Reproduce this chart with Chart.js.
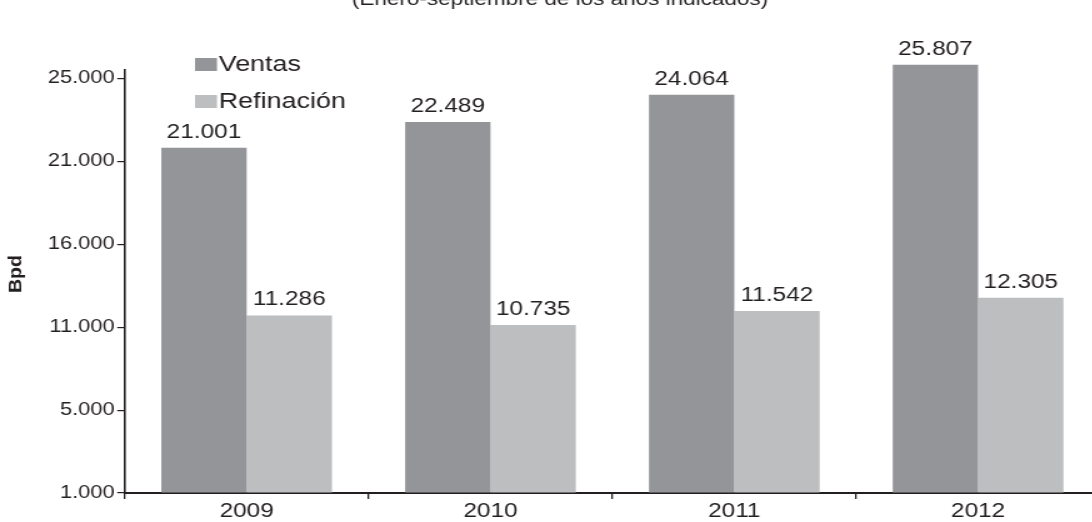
<!DOCTYPE html>
<html lang="es">
<head>
<meta charset="utf-8">
<title>Ventas y refinación</title>
<script src="https://cdn.jsdelivr.net/npm/chart.js@4.4.1/dist/chart.umd.min.js"></script>
<style>
  html, body { margin: 0; padding: 0; background: #fff; overflow: hidden; width: 1092px; height: 522px; }
  /* the source picture uses a wide face: draw narrow, stretch sideways.
     the plot runs a few px past the right edge, as in the original */
  #chart { width: 1100px !important; height: 522px !important; display: block; }
</style>
</head>
<body>
<canvas id="chart" width="880" height="522" style="width:1100px;height:522px"></canvas>
<script>
const years = ['2009', '2010', '2011', '2012'];
const ventas = [21001, 22489, 24064, 25807];
const refinacion = [11286, 10735, 11542, 12305];
const yTickLabels = ['1.000', '5.000', '11.000', '16.000', '21.000', '25.000'];
const subtitle = '(Enero-septiembre de los años indicados)';
const yTitle = 'Bpd';

const INK = '#231f20';
const FONT = "'Liberation Sans', Arial, Helvetica, sans-serif";
const COLORS = ['#939598', '#bcbec0'];

// tick labels sit evenly spaced on the axis
const Y_MIN = 1000, Y_STEP = 4800;

const fmt = n => String(n).replace(/\B(?=(\d{3})+(?!\d))/g, '.');

/* values above each bar */
const barLabels = {
  id: 'barLabels',
  afterDatasetsDraw(chart){
    const ctx = chart.ctx;
    ctx.save();
    ctx.font = `19.5px ${FONT}`;
    ctx.fillStyle = INK;
    ctx.textAlign = 'center';
    ctx.textBaseline = 'alphabetic';
    chart.data.datasets.forEach((ds, i) => {
      chart.getDatasetMeta(i).data.forEach((bar, j) => {
        ctx.fillText(fmt(ds.data[j]), bar.x, bar.y - 10);
      });
    });
    ctx.restore();
  }
};

/* subtitle, axis title and the little legend in the corner */
const decor = {
  id: 'decor',
  afterDraw(chart){
    const ctx = chart.ctx;
    ctx.save();
    ctx.fillStyle = INK;
    ctx.font = `18px ${FONT}`;
    ctx.textAlign = 'center';
    ctx.textBaseline = 'alphabetic';
    ctx.fillText(subtitle, 448, 5);

    // rotated axis title
    ctx.save();
    ctx.translate(13, 274);
    ctx.rotate(-Math.PI / 2);
    ctx.scale(1.4, 1);
    ctx.font = `bold 14px ${FONT}`;
    ctx.textBaseline = 'middle';
    ctx.fillText(yTitle, 0, 0);
    ctx.restore();

    // legend
    ctx.font = `21.5px ${FONT}`;
    ctx.textAlign = 'left';
    ctx.textBaseline = 'middle';
    const rows = [58, 95];
    chart.data.datasets.forEach((ds, i) => {
      ctx.fillStyle = ds.backgroundColor;
      ctx.fillRect(156, rows[i], 17.6, 13);
      ctx.fillStyle = INK;
      ctx.fillText(ds.label, 175, rows[i] + 7);
    });
    ctx.restore();
  }
};

new Chart(document.getElementById('chart'), {
  type: 'bar',
  data: {
    labels: years,
    datasets: [
      { label: 'Ventas', data: ventas, backgroundColor: COLORS[0], base: Y_MIN, clip: false },
      { label: 'Refinación', data: refinacion, backgroundColor: COLORS[1], base: Y_MIN, clip: false },
    ],
  },
  options: {
    responsive: false,
    animation: false,
    devicePixelRatio: 1,
    categoryPercentage: 0.7,
    barPercentage: 1.0,
    layout: { padding: { top: 70, left: 0, right: 0, bottom: -2.5 } },
    plugins: {
      legend: { display: false },
      tooltip: { enabled: false },
    },
    scales: {
      x: {
        offset: true,
        grid: { offset: true, drawOnChartArea: false, tickLength: 6, color: INK, lineWidth: 1.3 },
        border: { display: true, color: INK, width: 2 },
        ticks: { color: INK, padding: 3, font: { family: FONT, size: 19.5, lineHeight: 1 } },
      },
      y: {
        min: Y_MIN,
        max: 25500,
        afterFit(scale){ scale.width = 99.8; },
        afterBuildTicks(scale){
          scale.ticks = yTickLabels.map((_, i) => ({ value: Y_MIN + i * Y_STEP }));
        },
        grid: { drawOnChartArea: false, tickLength: 6, color: INK, lineWidth: 1.2 },
        border: { display: true, color: INK, width: 1.6 },
        ticks: {
          color: INK,
          padding: 2,
          font: { family: FONT, size: 17.5 },
          callback: (v, i) => yTickLabels[i],
        },
      },
    },
  },
  plugins: [barLabels, decor],
});
</script>
</body>
</html>
